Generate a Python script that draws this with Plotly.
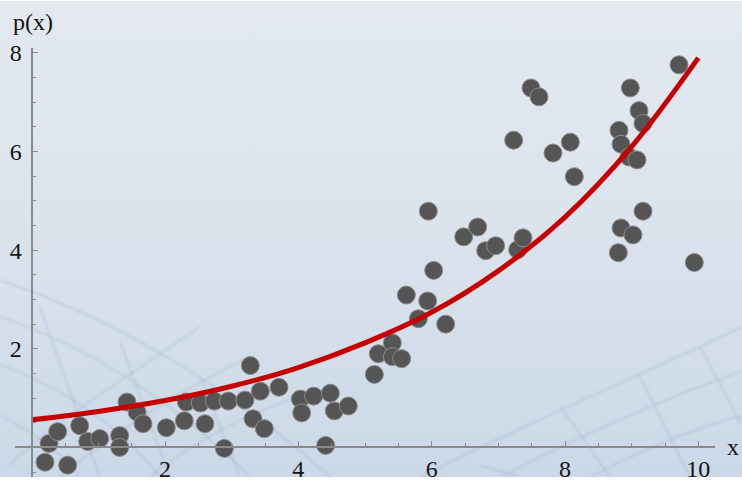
import base64
import plotly.graph_objects as go

# ---- data ----
pts_x = [0.20, 0.26, 0.39, 0.54, 0.72, 0.84, 1.02, 1.32, 1.32, 1.43, 1.58, 1.67,
         2.02, 2.29, 2.60, 2.89, 2.32, 2.53, 2.74, 2.95, 3.20, 3.28, 3.43, 3.71,
         3.32, 3.49, 4.03, 4.23, 4.48, 4.05, 4.54, 4.75, 4.41, 5.14, 5.20, 5.41,
         5.41, 5.55, 5.62, 5.80, 5.94, 6.21, 6.03, 5.95, 6.48, 6.69, 6.81, 6.96,
         7.29, 7.37, 7.23, 7.49, 7.61, 7.82, 8.08, 8.14, 8.80, 8.84, 9.02, 9.17,
         8.81, 8.84, 8.96, 9.08, 9.11, 9.17, 8.98, 9.71, 9.94]
pts_y = [-0.30, 0.08, 0.32, -0.36, 0.44, 0.12, 0.18, 0.24, 0.00, 0.92, 0.72, 0.48,
         0.40, 0.54, 0.48, -0.02, 0.92, 0.90, 0.94, 0.94, 0.96, 1.66, 1.14, 1.22,
         0.58, 0.38, 0.98, 1.04, 1.10, 0.70, 0.74, 0.84, 0.04, 1.48, 1.90, 2.12,
         1.84, 1.80, 3.09, 2.61, 2.97, 2.50, 3.59, 4.79, 4.27, 4.47, 3.99, 4.09,
         4.01, 4.25, 6.23, 7.29, 7.11, 5.97, 6.19, 5.49, 3.95, 4.45, 4.31, 4.79,
         6.43, 6.15, 5.89, 5.83, 6.83, 6.57, 7.29, 7.76, 3.75]

curve_x = [0, 1, 2, 3, 4, 5, 6, 7, 8, 9, 10]
curve_y = [0.56, 0.73, 0.95, 1.24, 1.62, 2.12, 2.74, 3.58, 4.67, 6.10, 7.90]

x_tickvals = [2, 4, 6, 8, 10]
y_tickvals = [2, 4, 6, 8]
x_label = "x"
y_label = "p(x)"

# ---- figure geometry ----
W, H = 742, 482
ML, MR, MT, MB = 15, 27, 48, 0
XR = [-0.25, 10.25]
YR = [-0.60, 8.10]
PW, PH = W - ML - MR, H - MT - MB

# ---- decorative background (gradient + faint mesh curves) ----
svg = f'''<svg xmlns="http://www.w3.org/2000/svg" width="{W}" height="{H}" viewBox="0 0 {W} {H}">
<defs><linearGradient id="g" x1="0" y1="0" x2="0" y2="1">
<stop offset="0" stop-color="#e4e9f0"/><stop offset="0.55" stop-color="#d9e2ec"/><stop offset="1" stop-color="#cbd8e7"/></linearGradient>
<filter id="b"><feGaussianBlur stdDeviation="0.9"/></filter></defs>
<rect width="{W}" height="{H}" fill="url(#g)"/>
<g fill="none" stroke="#8ea3bf" stroke-opacity="0.28" stroke-width="2" filter="url(#b)">
<path d="M0,283 C110,320 230,390 330,482"/>
<path d="M0,320 C90,350 180,410 250,482"/>
<path d="M0,368 C60,390 120,430 160,482"/>
<path d="M0,420 C30,435 60,455 80,482"/>
<path d="M10,470 C60,420 130,380 200,330"/>
<path d="M60,482 C110,440 170,400 250,360"/>
<path d="M150,482 C190,450 240,420 300,400"/>
<path d="M40,310 L100,482"/>
<path d="M120,345 L170,482"/>
<path d="M200,380 L240,482"/>
<path d="M420,482 C520,430 640,380 742,330"/>
<path d="M500,482 C580,440 670,400 742,375"/>
<path d="M590,482 C640,455 700,430 742,420"/>
<path d="M480,470 L520,482"/>
<path d="M560,410 L610,482"/>
<path d="M640,380 L690,482"/>
<path d="M700,350 L742,430"/>
</g></svg>'''
bg_src = "data:image/svg+xml;base64," + base64.b64encode(svg.encode()).decode()

FONT = "Liberation Serif, Times New Roman, serif"
AXC = "#8a8a8a"
TXT = "#141414"

fig = go.Figure()
fig.add_trace(go.Scatter(
    x=pts_x, y=pts_y, mode="markers",
    marker=dict(size=18, color="#555555", line=dict(color="#8c8c8c", width=1)),
    cliponaxis=False, showlegend=False, hoverinfo="skip"))
fig.add_trace(go.Scatter(
    x=curve_x, y=curve_y, mode="lines", line_shape="spline",
    line=dict(color="#c60000", width=5), showlegend=False, hoverinfo="skip"))

y0_paper = (0 - YR[0]) / (YR[1] - YR[0])
x0_paper = (0 - XR[0]) / (XR[1] - XR[0])

fig.update_layout(
    width=W, height=H, autosize=False,
    margin=dict(l=ML, r=MR, t=MT, b=MB, pad=0),
    paper_bgcolor="rgba(0,0,0,0)", plot_bgcolor="rgba(0,0,0,0)",
    font=dict(family=FONT, size=24, color=TXT),
    images=[dict(source=bg_src, xref="paper", yref="paper",
                 x=-ML / PW, y=1 + MT / PH, sizex=W / PW, sizey=H / PH,
                 xanchor="left", yanchor="top", sizing="stretch", layer="below")],
    xaxis=dict(range=XR, anchor="free", position=y0_paper, side="bottom",
               showgrid=False, zeroline=False, showline=True, linecolor=AXC, linewidth=2,
               tickvals=x_tickvals, ticks="inside", ticklen=5, tickwidth=1, tickcolor=AXC,
               minor=dict(dtick=0.5, tick0=0, ticks="inside", ticklen=3, tickcolor=AXC, showgrid=False),
               tickfont=dict(family=FONT, size=24, color=TXT)),
    yaxis=dict(range=YR, anchor="free", position=x0_paper, side="left",
               showgrid=False, zeroline=False, showline=True, linecolor=AXC, linewidth=2,
               tickvals=y_tickvals, ticks="inside", ticklen=5, tickwidth=1, tickcolor=AXC,
               minor=dict(dtick=0.5, tick0=0, ticks="inside", ticklen=3, tickcolor=AXC, showgrid=False),
               tickfont=dict(family=FONT, size=24, color=TXT), ticklabelstandoff=4),
    annotations=[
        dict(text=y_label, xref="paper", yref="paper", x=(33 - ML) / PW, y=(H - 22) / PH,
             showarrow=False, xanchor="center", yanchor="middle",
             font=dict(family=FONT, size=24, color=TXT)),
        dict(text=x_label, xref="paper", yref="paper", x=(740 - ML) / PW, y=y0_paper,
             showarrow=False, xanchor="right", yanchor="middle", borderpad=0,
             font=dict(family=FONT, size=24, color=TXT)),
    ],
)

fig.write_html("out.html")
